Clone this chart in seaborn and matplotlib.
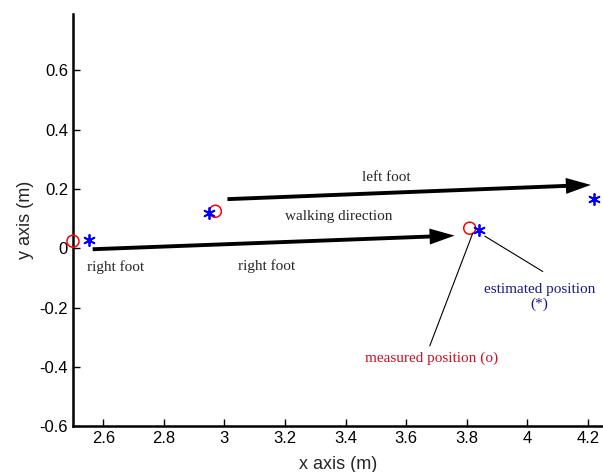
import matplotlib
matplotlib.use("Agg")
import matplotlib.pyplot as plt
import seaborn as sns
import pandas as pd
from matplotlib.ticker import FuncFormatter

# measured foot positions (red circles)
meas_x = [2.50, 2.97, 3.81]
meas_y = [0.024, 0.125, 0.068]

# estimated foot positions (blue stars)
est_x = [2.553, 2.948, 3.84, 4.22]
est_y = [0.027, 0.119, 0.061, 0.166]

# walking direction arrows: (start, end)
right_arrow = [(2.565, -0.003), (3.76, 0.043)]
left_arrow = [(3.01, 0.166), (4.21, 0.214)]

x_ticks = [2.6, 2.8, 3.0, 3.2, 3.4, 3.6, 3.8, 4.0, 4.2]
y_ticks = [-0.6, -0.4, -0.2, 0.0, 0.2, 0.4, 0.6]

sns.set_style("ticks")
plt.rcParams['font.family'] = ['Liberation Sans', 'DejaVu Sans']

fig = plt.figure(figsize=(6.03, 4.72), dpi=100)
ax = fig.add_axes([0.121, 0.097, 0.879, 0.873])

meas = pd.DataFrame({'x': meas_x, 'y': meas_y})
est = pd.DataFrame({'x': est_x, 'y': est_y})

sns.scatterplot(data=meas, x='x', y='y', ax=ax, marker='o', s=75,
                facecolor='none', edgecolor='red', linewidth=1.1, zorder=3,
                clip_on=False)
sns.scatterplot(data=est, x='x', y='y', ax=ax, marker=(6, 2, 0), s=65,
                color='blue', edgecolor='blue', linewidth=1.3, zorder=3,
                clip_on=False)

arrow_props = dict(width=2.8, headwidth=11.5, headlength=18,
                   facecolor='black', edgecolor='none', shrink=0)
for (x0, y0), (x1, y1) in [right_arrow, left_arrow]:
    ax.annotate('', xy=(x1, y1), xytext=(x0, y0), arrowprops=arrow_props)

serif = ['Liberation Serif', 'DejaVu Serif']
ax.text(3.535, 0.24, 'left foot', family=serif, fontsize=11, ha='center', va='center')
ax.text(3.377, 0.108, 'walking direction', family=serif, fontsize=11, ha='center', va='center')
ax.text(2.641, -0.064, 'right foot', family=serif, fontsize=11, ha='center', va='center')
ax.text(3.138, -0.061, 'right foot', family=serif, fontsize=11, ha='center', va='center')
ax.text(4.04, -0.164, 'estimated position\n(*)', family=serif, fontsize=11,
        color='#1a1a8c', ha='center', va='center', linespacing=1.1)
ax.text(3.684, -0.37, 'measured position (o)', family=serif, fontsize=11,
        color='#cc1122', ha='center', va='center')

# leader lines from the labels to the marks
line_props = dict(arrowstyle='-', lw=0.8, color='black', shrinkA=0, shrinkB=0)
ax.annotate('', xy=(3.86, 0.041), xytext=(4.051, -0.078), arrowprops=line_props)
ax.annotate('', xy=(3.82, 0.051), xytext=(3.678, -0.329), arrowprops=line_props)

ax.set_xlim(2.5, 4.25)
ax.set_ylim(-0.6, 0.79)
ax.set_xticks(x_ticks)
ax.set_yticks(y_ticks)
fmt = FuncFormatter(lambda v, p: '%g' % round(v, 2))
ax.xaxis.set_major_formatter(fmt)
ax.yaxis.set_major_formatter(fmt)
ax.tick_params(direction='in', length=5, width=1, labelsize=12, colors='black')
ax.set_xlabel('x axis (m)', fontsize=13, labelpad=7)
ax.set_ylabel('y axis (m)', fontsize=13, labelpad=4)

for side in ['top', 'right']:
    ax.spines[side].set_visible(False)
for side in ['left', 'bottom']:
    ax.spines[side].set_linewidth(1.8)
    ax.spines[side].set_color('black')

fig.savefig('out.png', dpi=100)
